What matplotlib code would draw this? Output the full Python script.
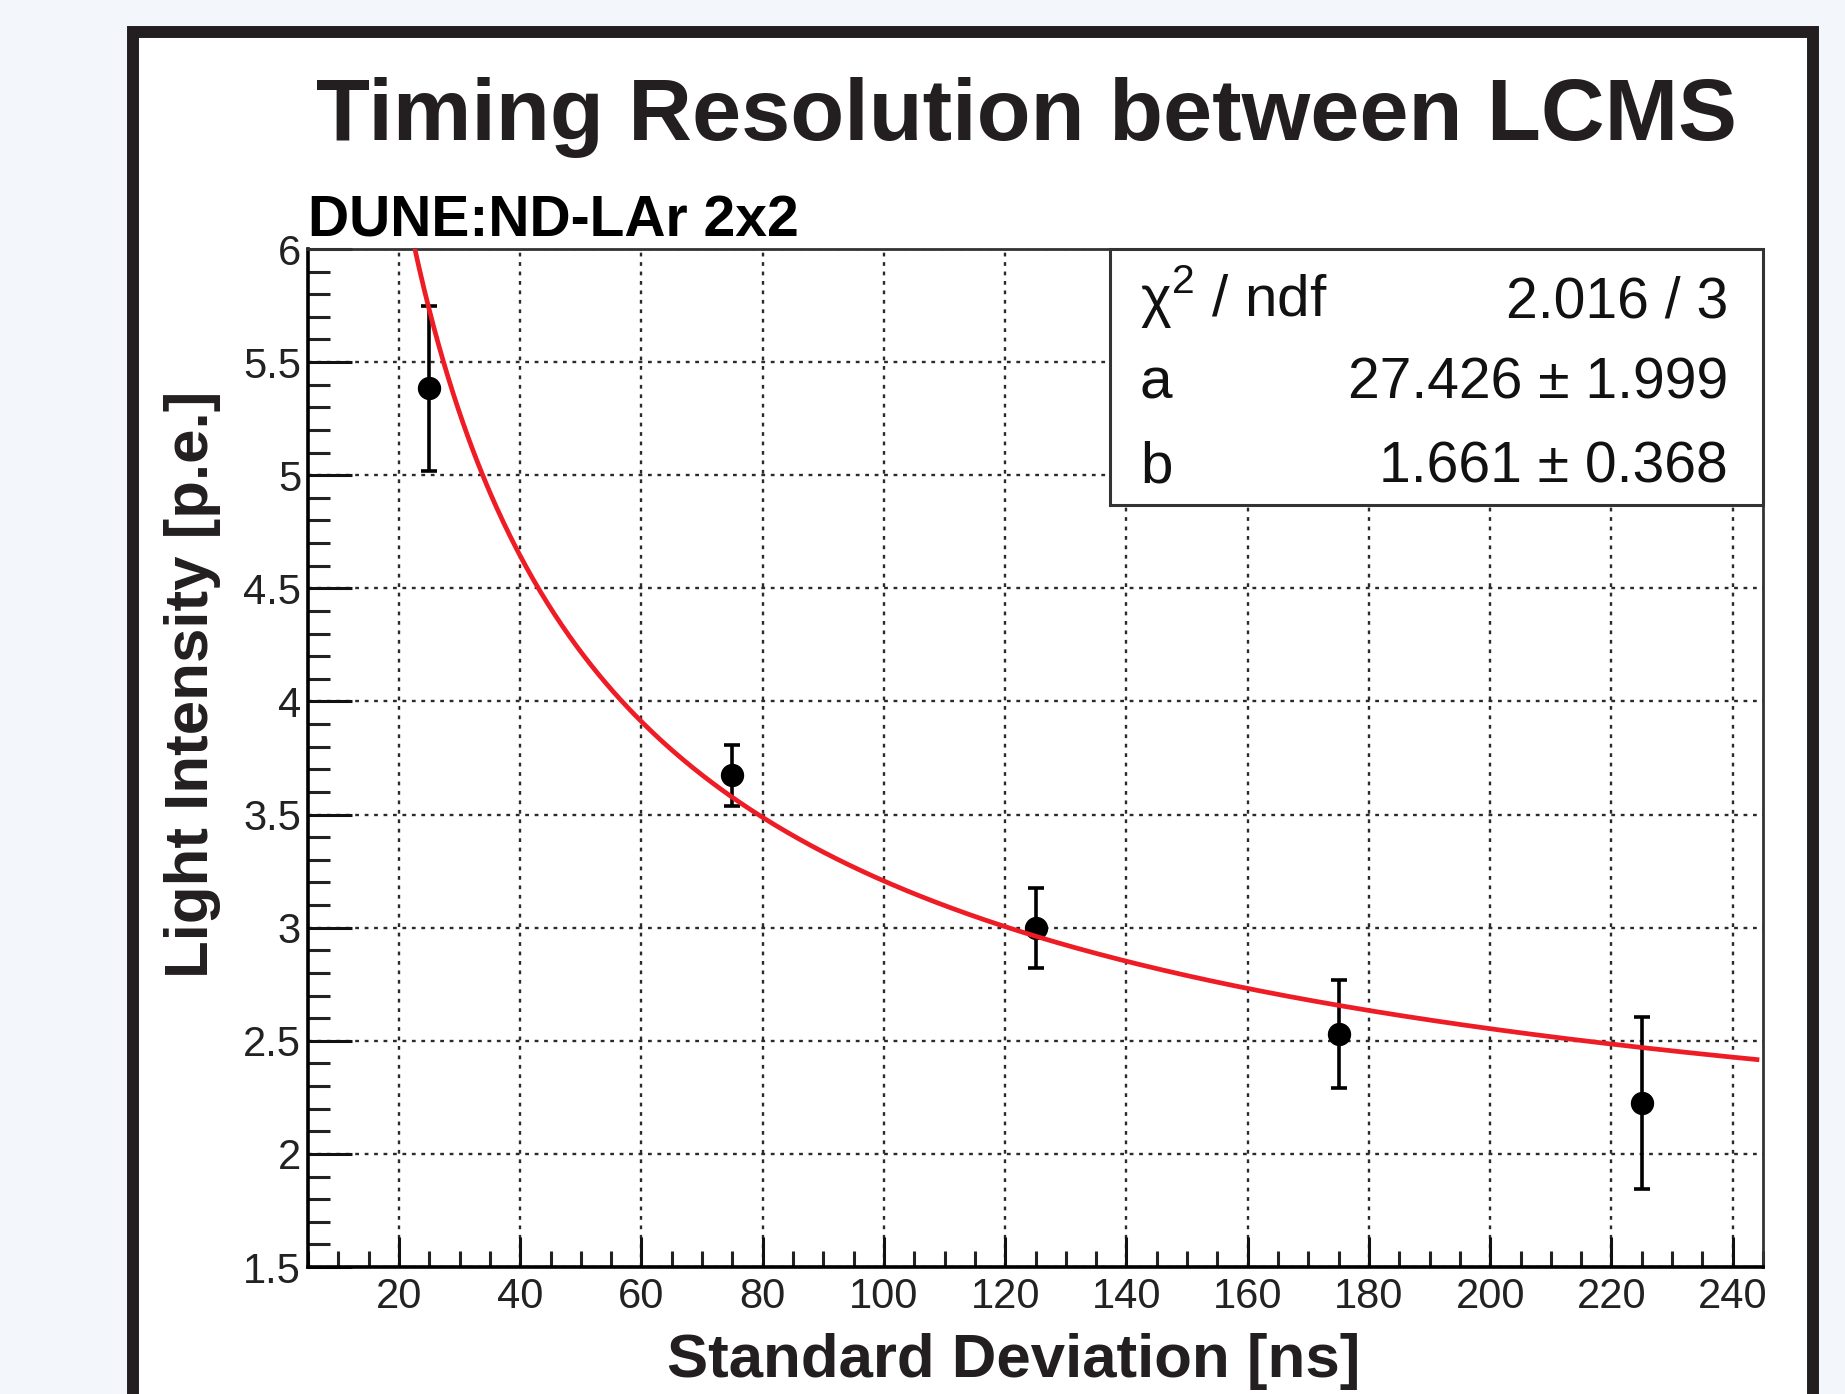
import numpy as np
import matplotlib.pyplot as plt
from matplotlib.patches import Rectangle
from matplotlib.ticker import MultipleLocator

# points
sigma = [25, 75, 125, 175, 225]
light = [5.385, 3.674, 3.00, 2.53, 2.225]
light_err = [0.365, 0.135, 0.177, 0.24, 0.378]

# fit parameters from the stats box
fit_a = 27.426
fit_b = 1.661
stat_names = ["χ$^{2}$ / ndf", "a", "b"]
stat_values = ["2.016 / 3", "27.426 ± 1.999", "1.661 ± 0.368"]

xticks = [20, 40, 60, 80, 100, 120, 140, 160, 180, 200, 220, 240]
yticks = [1.5, 2, 2.5, 3, 3.5, 4, 4.5, 5, 5.5, 6]
ytick_labels = ['1.5', '2', '2.5', '3', '3.5', '4', '4.5', '5', '5.5', '6']

plt.rcParams['font.family'] = ['Liberation Sans', 'DejaVu Sans']
plt.rcParams['mathtext.fontset'] = 'custom'
plt.rcParams['mathtext.rm'] = 'Liberation Sans'

fig = plt.figure(figsize=(18.45, 13.94), dpi=100, facecolor='#f3f7fb')

# slide frame
fig.patches.append(Rectangle((0.0721, -0.05), 0.9106, 1.027, transform=fig.transFigure,
                             facecolor='white', edgecolor='#231f20', lw=8.6, zorder=-5))

ax = fig.add_axes([0.16694, 0.0911, 0.78862, 0.73027])
ax.set_zorder(2)
ax.set_facecolor('white')
ax.set_xlim(5, 245)
ax.set_ylim(1.5, 6)

ax.set_xticks(xticks)
ax.set_xticklabels([str(t) for t in xticks])
ax.set_yticks(yticks)
ax.set_yticklabels(ytick_labels)
ax.xaxis.set_minor_locator(MultipleLocator(5))
ax.yaxis.set_minor_locator(MultipleLocator(0.1))

ax.tick_params(axis='x', which='major', direction='in', length=21.6, width=2.2,
               labelsize=30, pad=7, colors='#111', labelcolor='#222')
ax.tick_params(axis='x', which='minor', direction='in', length=11.5, width=2.2, colors='#222')
ax.tick_params(axis='y', which='major', direction='in', length=31.7, width=2.2,
               labelsize=30, pad=5, colors='#111', labelcolor='#222')
ax.tick_params(axis='y', which='minor', direction='in', length=15.8, width=2.2, colors='#222')

for s in ['left', 'bottom']:
    ax.spines[s].set_linewidth(2.6)
    ax.spines[s].set_color('black')
for s in ['top', 'right']:
    ax.spines[s].set_linewidth(2)
    ax.spines[s].set_color('#333')

ax.grid(True, which='major', color='#2a2a2a', lw=1.7, linestyle=(0, (1.6, 2.4)))
ax.set_axisbelow(True)

ax.errorbar(sigma, light, yerr=light_err, fmt='o', color='black', ms=15.8,
            elinewidth=2.6, capsize=5.8, capthick=2.6, zorder=4)

xs = np.linspace(5, 244, 600)
ax.plot(xs, np.sqrt(fit_a**2 / xs + fit_b**2), color='#ee1c25', lw=3.4, zorder=5)

# stats box
ax.add_patch(Rectangle((0.5512, 0.7485), 0.4488, 0.2515, transform=ax.transAxes,
                       facecolor='white', edgecolor='#333', lw=2.2, zorder=6, clip_on=False))
row_y = [0.9332, 0.8536, 0.7711]
for name, val, y in zip(stat_names, stat_values, row_y):
    ax.text(0.5718, y, name, transform=ax.transAxes, ha='left', va='baseline',
            fontsize=42, color='#111', zorder=7)
    ax.text(0.9759, y, val, transform=ax.transAxes, ha='right', va='baseline',
            fontsize=41, color='#111', zorder=7)

fig.text(0.5566, 0.8996, 'Timing Resolution between LCMS', ha='center', va='baseline',
         fontsize=63.5, fontweight='bold', color='#231f20')
fig.text(0.1669, 0.8300, 'DUNE:ND-LAr 2x2', ha='left', va='baseline',
         fontsize=41, fontweight='bold', color='black')
fig.text(0.1046, 0.509, 'Light Intensity [p.e.]', rotation=90, ha='center', va='center',
         fontsize=44.5, fontweight='bold', color='#231f20')
fig.text(0.5496, 0.0122, 'Standard Deviation [ns]', ha='center', va='baseline',
         fontsize=44.5, fontweight='bold', color='#231f20')

fig.savefig('out.png', dpi=100, facecolor=fig.get_facecolor())
